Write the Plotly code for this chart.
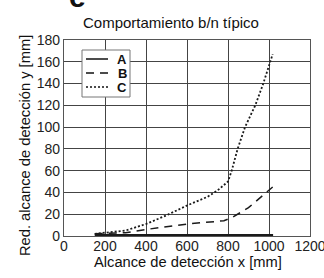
import plotly.graph_objects as go

a_x = [150, 400, 600, 800, 1020]
a_y = [0.8, 0.8, 0.8, 0.8, 0.8]
b_x = [150, 300, 400, 600, 780, 820, 900, 1018]
b_y = [2, 3, 6, 11, 14, 17, 26, 45]
c_x = [150, 200, 300, 400, 500, 600, 700, 750, 800, 818, 847, 883, 933, 972, 1008, 1018]
c_y = [2, 3, 5, 11, 19, 28, 36, 42, 50, 60, 80, 100, 120, 140, 160, 167]
series_names = ["A", "B", "C"]

x_ticks = [0, 200, 400, 600, 800, 1000, 1200]
y_ticks = [0, 20, 40, 60, 80, 100, 120, 140, 160, 180]

FONT = "Liberation Sans, Arial, sans-serif"
W, H = 324, 278
l, r, t, b = 64, 14, 40, 42
pw, ph = W - l - r, H - t - b


def px(xp):
    return (xp - l) / pw


def py(yp):
    return (H - b - yp) / ph


styles = [dict(width=2.2, dash="solid"),
          dict(width=1.5, dash="8px,6px"),
          dict(width=1.8, dash="2px,2px")]

fig = go.Figure()
for name, xs, ys, st in zip(series_names, [a_x, b_x, c_x], [a_y, b_y, c_y], styles):
    fig.add_trace(go.Scatter(x=xs, y=ys, mode="lines", name=name, showlegend=False,
                             hoverinfo="skip", line=dict(color="#1a1a1a", **st)))

shapes = [dict(type="rect", xref="paper", yref="paper",
               x0=px(82), x1=px(130), y0=py(97), y1=py(50),
               line=dict(color="#777", width=1), fillcolor="white", layer="above")]
anns = []
for i, (name, st) in enumerate(zip(series_names, styles)):
    yy = 59 + i * 14
    shapes.append(dict(type="line", xref="paper", yref="paper",
                       x0=px(86), x1=px(108), y0=py(yy), y1=py(yy),
                       line=dict(color="#111", width=1.5, dash=st["dash"]),
                       layer="above"))
    anns.append(dict(text=f"<b>{name}</b>", x=px(122), y=py(yy), xref="paper", yref="paper",
                     xanchor="center", yanchor="middle", showarrow=False,
                     font=dict(size=13, color="#111")))

anns += [
    dict(text="Comportamiento b/n típico", x=px(171), y=py(22), xref="paper", yref="paper",
         xanchor="center", yanchor="middle", showarrow=False, font=dict(size=15, color="#111")),
    dict(text="Alcance de detección x [mm]", x=px(188), y=py(262), xref="paper", yref="paper",
         xanchor="center", yanchor="middle", showarrow=False, font=dict(size=14.7, color="#111")),
    dict(text="Red. alcance de detección y [mm]", x=px(25), y=py(146), xref="paper", yref="paper",
         xanchor="center", yanchor="middle", showarrow=False, textangle=-90,
         font=dict(size=14.7, color="#111")),
    dict(text="<b>e</b>", x=px(77), y=py(-3), xref="paper", yref="paper",
         xanchor="center", yanchor="middle", showarrow=False, font=dict(size=30, color="#111")),
]

fig.update_layout(
    width=W, height=H,
    margin=dict(l=l, r=r, t=t, b=b, autoexpand=False),
    paper_bgcolor="white", plot_bgcolor="white",
    font=dict(family=FONT, size=14, color="#222"),
    showlegend=False,
    hovermode=False,
    xaxis=dict(range=[0, 1200], tickvals=x_ticks, showgrid=True,
               gridcolor="#444", gridwidth=1, zeroline=False,
               showline=True, linecolor="#555", linewidth=1.2, mirror=True,
               ticks="", tickfont=dict(size=14, color="#222"), automargin=False,
               ticklabeloverflow="allow", ticklabelstandoff=-3),
    yaxis=dict(range=[0, 180], tickvals=y_ticks, showgrid=True,
               gridcolor="#444", gridwidth=1, zeroline=False,
               showline=True, linecolor="#555", linewidth=1.2, mirror=True,
               ticks="", tickfont=dict(size=14, color="#222"), automargin=False),
    shapes=shapes,
    annotations=anns,
)

fig.write_html("out.html", config={"displayModeBar": False, "staticPlot": True},
               post_script="document.body.style.margin='0';document.body.style.overflow='hidden';")
